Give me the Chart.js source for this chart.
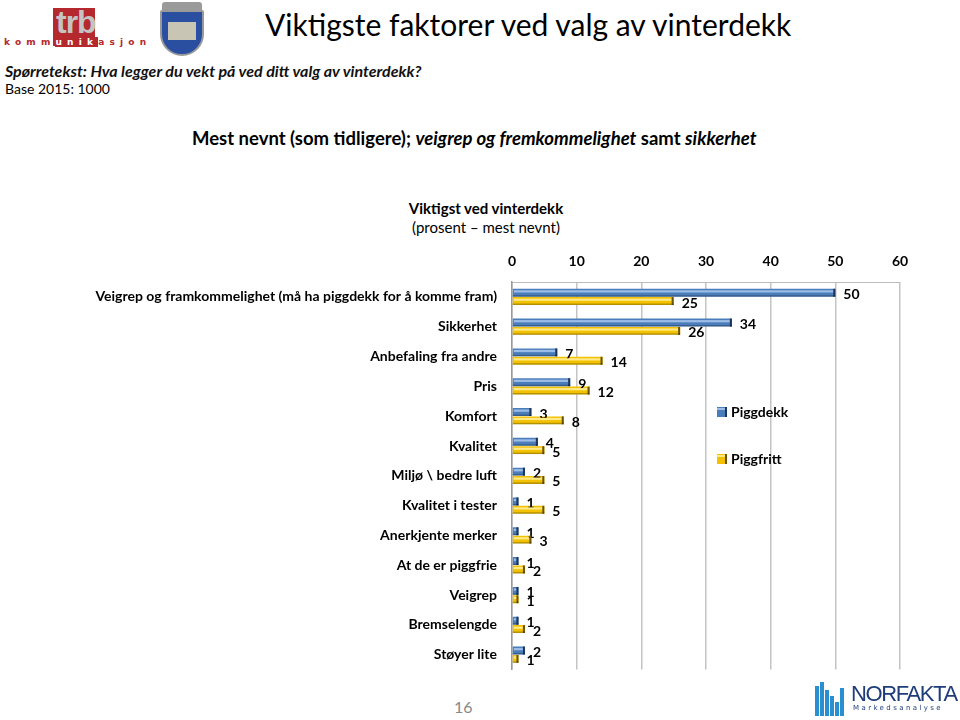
<!DOCTYPE html>
<html>
<head>
<meta charset="utf-8">
<script src="https://cdn.jsdelivr.net/npm/chart.js@4"></script>
<style>
  body { margin: 0; width: 960px; height: 720px; background: #fff; position: relative; overflow: hidden; font-family: Lato, "Open Sans", sans-serif; }
  .abs { position: absolute; white-space: nowrap; }
  #chartBox { position: absolute; left: 0; top: 240px; width: 960px; height: 453px; }
</style>
</head>
<body>
<!-- logo trb -->
<div class="abs" style="left:53px;top:8px;width:42px;height:38px;background:#b5282e;"></div>
<div class="abs" style="left:56px;top:4px;font:bold 32px 'Liberation Sans';color:#c4c4c4;letter-spacing:-1px;">trb</div>
<div class="abs" style="left:4px;top:37px;font:bold 9px 'DejaVu Sans';color:#b5282e;letter-spacing:5.2px;">komm<span style="background:#b5282e;color:#fff;">unik</span>asjon</div>
<!-- shield -->
<div class="abs" style="left:162px;top:2px;width:40px;height:8px;background:#9a9a9a;border-radius:3px 3px 0 0;"></div>
<div class="abs" style="left:160px;top:10px;width:44px;height:46px;background:#2b4fa0;border:2px solid #999;border-radius:2px 2px 22px 22px;box-sizing:border-box;"></div>
<div class="abs" style="left:168px;top:22px;width:28px;height:18px;background:#c9c5b5;"></div>

<div class="abs" style="left:265px;top:6px;font:30px Lato;color:#000;">Viktigste faktorer ved valg av vinterdekk</div>
<div class="abs" style="left:5px;top:61px;font:italic bold 16px Lato;color:#111;">Spørretekst: Hva legger du vekt på ved ditt valg av vinterdekk?</div>
<div class="abs" style="left:5px;top:80px;font:14px Lato;color:#000;">Base 2015: 1000</div>
<div class="abs" style="left:192px;top:127px;font:bold 18.5px Lato;color:#000;">Mest nevnt (som tidligere); <i>veigrep og fremkommelighet</i> samt <i>sikkerhet</i></div>
<div class="abs" style="left:0;width:972px;top:199px;text-align:center;font:bold 15px Lato;color:#000;">Viktigst ved vinterdekk</div>
<div class="abs" style="left:0;width:972px;top:218px;text-align:center;font:15px Lato;color:#000;">(prosent – mest nevnt)</div>

<div id="chartBox"><canvas id="chart"></canvas></div>

<div class="abs" style="left:454px;top:697px;font:16px Lato;color:#888;">16</div>
<!-- norfakta logo -->
<div class="abs" style="left:815px;top:686px;width:4px;height:30px;background:#2a8fd0;"></div>
<div class="abs" style="left:820px;top:682px;width:4px;height:34px;background:#2a8fd0;"></div>
<div class="abs" style="left:825px;top:690px;width:4px;height:26px;background:#2a8fd0;"></div>
<div class="abs" style="left:830px;top:696px;width:4px;height:20px;background:#2a8fd0;"></div>
<div class="abs" style="left:835px;top:702px;width:4px;height:14px;background:#2a8fd0;"></div>
<div class="abs" style="left:840px;top:688px;width:4px;height:28px;background:#2a8fd0;"></div>
<div class="abs" style="left:851px;top:681px;font:22px 'Liberation Sans';color:#1f3d7a;letter-spacing:-1.4px;">NORFAKTA</div>
<div class="abs" style="left:853px;top:704px;font:7px 'DejaVu Sans';color:#1f3d7a;letter-spacing:2.4px;">Markedsanalyse</div>

<script>
// Kategorier og verdier (prosent)
const categories = [
  "Veigrep og framkommelighet (må ha piggdekk for å komme fram)",
  "Sikkerhet",
  "Anbefaling fra andre",
  "Pris",
  "Komfort",
  "Kvalitet",
  "Miljø \\ bedre luft",
  "Kvalitet i tester",
  "Anerkjente merker",
  "At de er piggfrie",
  "Veigrep",
  "Bremselengde",
  "Støyer lite"
];
const piggdekk = [50, 34, 7, 9, 3, 4, 2, 1, 1, 1, 1, 1, 2];
const piggfritt = [25, 26, 14, 12, 8, 5, 5, 5, 3, 2, 1, 2, 1];
const xTicks = [0, 10, 20, 30, 40, 50, 60];

const colors = {
  blue: { base: "#4a7ebb", light: "#9dbde6", dark: "#1c355e" },
  yellow: { base: "#f2c200", light: "#ffe98a", dark: "#6b5400" }
};

// 3D-effekt, dataetiketter og legende
const decorPlugin = {
  id: "decor",
  afterDatasetsDraw(chart) {
    const ctx = chart.ctx;
    chart.data.datasets.forEach((ds, i) => {
      const c = ds.tone;
      chart.getDatasetMeta(i).data.forEach((bar, j) => {
        const top = bar.y - bar.height / 2;
        const h = bar.height;
        const left = bar.base;
        const w = bar.x - bar.base;
        ctx.save();
        ctx.fillStyle = c.light;
        ctx.fillRect(left + 1, top + 1.5, Math.max(w - 3, 0), h * 0.28);
        ctx.fillStyle = c.dark;
        ctx.fillRect(bar.x - 2, top, 2, h);
        ctx.fillStyle = "rgba(0,0,0,0.25)";
        ctx.fillRect(left, top + h - 1.5, w, 1.5);
        ctx.fillStyle = "#000";
        ctx.font = "bold 14px Lato";
        ctx.textAlign = "left";
        ctx.textBaseline = "middle";
        ctx.fillText(ds.data[j], bar.x + 8, bar.y + 2);
        ctx.restore();
      });
    });
    // legende
    const a = chart.chartArea;
    chart.data.datasets.forEach((ds, i) => {
      const x = a.left + 205;
      const y = a.top + 130 + i * 47;
      ctx.save();
      ctx.fillStyle = ds.tone.base;
      ctx.fillRect(x, y - 5, 10, 10);
      ctx.fillStyle = ds.tone.dark;
      ctx.fillRect(x + 8, y - 5, 2, 10);
      ctx.fillStyle = ds.tone.light;
      ctx.fillRect(x, y - 4, 8, 2);
      ctx.fillStyle = "#000";
      ctx.font = "bold 14px Lato";
      ctx.textBaseline = "middle";
      ctx.fillText(ds.label, x + 14, y);
      ctx.restore();
    });
  }
};

new Chart(document.getElementById("chart"), {
  type: "bar",
  data: {
    labels: categories,
    datasets: [
      { label: "Piggdekk", data: piggdekk, backgroundColor: colors.blue.base, tone: colors.blue },
      { label: "Piggfritt", data: piggfritt, backgroundColor: colors.yellow.base, tone: colors.yellow }
    ]
  },
  options: {
    indexAxis: "y",
    responsive: true,
    maintainAspectRatio: false,
    animation: false,
    categoryPercentage: 0.56,
    barPercentage: 0.95,
    layout: { padding: { top: 0, right: 60, bottom: 0, left: 0 } },
    plugins: {
      legend: { display: false },
      tooltip: { enabled: false }
    },
    scales: {
      x: {
        position: "top",
        min: 0,
        max: 60,
        afterBuildTicks: s => { s.ticks = xTicks.map(v => ({ value: v })); },
        afterFit: s => { s.height = 42; },
        ticks: { color: "#000", font: { family: "Lato", size: 14, weight: "bold" }, padding: 12 },
        grid: { color: "#c4c4c4", lineWidth: 1.5, drawTicks: false },
        border: { display: true, color: "#bbb", width: 1 }
      },
      y: {
        afterFit: s => { s.width = 512; },
        ticks: { color: "#000", font: { family: "Lato", size: 14, weight: "bold" }, padding: 15, autoSkip: false },
        grid: { display: false, drawTicks: false },
        border: { display: true, color: "#999", width: 1.5 }
      }
    }
  },
  plugins: [decorPlugin]
});
</script>
</body>
</html>
